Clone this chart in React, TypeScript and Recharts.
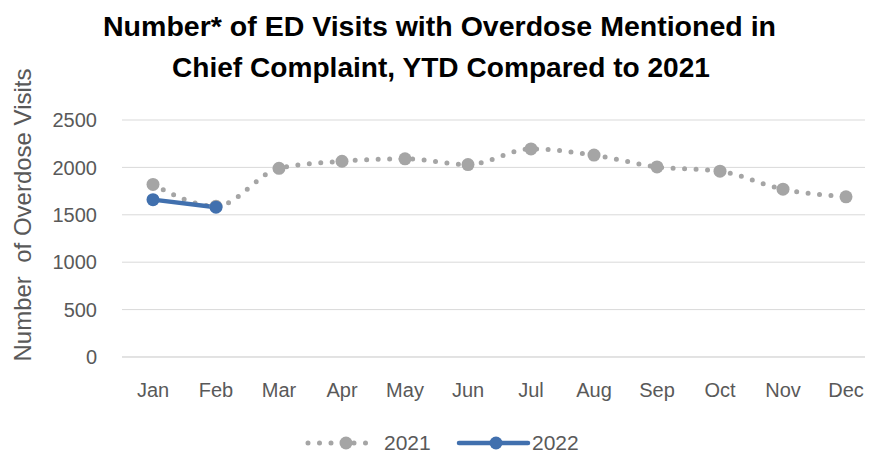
import React from 'react';
import { LineChart, Line, XAxis, YAxis, CartesianGrid } from 'recharts';

const months = ['Jan', 'Feb', 'Mar', 'Apr', 'May', 'Jun', 'Jul', 'Aug', 'Sep', 'Oct', 'Nov', 'Dec'];
const values2021 = [1820, 1590, 1990, 2065, 2090, 2030, 2195, 2130, 2005, 1960, 1770, 1690];
const values2022 = [1660, 1580];
const seriesNames = ['2021', '2022'];
const yTicks = [0, 500, 1000, 1500, 2000, 2500];
const titleLines = ['Number* of ED Visits with Overdose Mentioned in', 'Chief Complaint, YTD Compared to 2021'];
const yLabel = 'Number  of Overdose Visits';

const data = months.map((m, i) => ({
  month: m,
  y2021: values2021[i],
  y2022: i < values2022.length ? values2022[i] : null,
}));

const GREY = '#A5A5A5';
const BLUE = '#4170AE';
const TEXT = '#595959';
const FONT = '"Liberation Sans", Arial, sans-serif';

export default function App() {
  return (
    <div style={{ position: 'relative', marginTop: -8, marginLeft: -8, width: 873, height: 460, overflow: 'hidden', background: '#fff' }}>
      <LineChart width={880} height={452} data={data} margin={{ top: 120, right: 3, bottom: 65, left: 0 }}>
        <CartesianGrid vertical={false} stroke="#D9D9D9" strokeWidth={1} />
        <XAxis
          dataKey="month"
          scale="point"
          padding={{ left: 31, right: 31 }}
          axisLine={{ stroke: '#D9D9D9' }}
          tickLine={false}
          tickSize={0}
          tickMargin={26}
          height={30}
          tick={{ fill: TEXT, fontSize: 20, fontFamily: FONT }}
        />
        <YAxis
          domain={[0, 2500]}
          ticks={yTicks}
          width={122}
          axisLine={false}
          tickLine={false}
          tickSize={0}
          tickMargin={25}
          tick={{ fill: TEXT, fontSize: 20, fontFamily: FONT }}
          label={{
            content: () => (
              <text
                x={22}
                y={215}
                transform="rotate(-90 22 215)"
                textAnchor="middle"
                dominantBaseline="central"
                fill={TEXT}
                fontSize={24}
                fontFamily={FONT}
                style={{ whiteSpace: 'pre' }}
              >
                {yLabel}
              </text>
            ),
          }}
        />
        <Line
          type="monotone"
          dataKey="y2021"
          name={seriesNames[0]}
          stroke={GREY}
          strokeWidth={5}
          strokeDasharray="0 11.5"
          strokeLinecap="round"
          dot={{ r: 6.5, fill: GREY, stroke: GREY, strokeWidth: 0, strokeDasharray: 'none' }}
          isAnimationActive={false}
        />
        <Line
          type="monotone"
          dataKey="y2022"
          name={seriesNames[1]}
          stroke={BLUE}
          strokeWidth={4.5}
          dot={{ r: 6.5, fill: BLUE, stroke: BLUE, strokeWidth: 0 }}
          connectNulls={false}
          isAnimationActive={false}
        />
      </LineChart>
      <svg width={873} height={452} style={{ position: 'absolute', left: 0, top: 0, pointerEvents: 'none' }}>
        <text x={439.5} y={36} textAnchor="middle" fontFamily={FONT} fontWeight="bold" fontSize={27} fill="#000" textLength={673} lengthAdjust="spacingAndGlyphs">
          {titleLines[0]}
        </text>
        <text x={441} y={77} textAnchor="middle" fontFamily={FONT} fontWeight="bold" fontSize={27} fill="#000" textLength={538} lengthAdjust="spacingAndGlyphs">
          {titleLines[1]}
        </text>
        {/* legend */}
        <line x1={308} y1={443} x2={373} y2={443} stroke={GREY} strokeWidth={5} strokeDasharray="0 11.5" strokeLinecap="round" />
        <circle cx={346} cy={443} r={6.5} fill={GREY} />
        <text x={384} y={449.5} fontFamily={FONT} fontSize={21} fill={TEXT}>{seriesNames[0]}</text>
        <line x1={459} y1={443} x2={528} y2={443} stroke={BLUE} strokeWidth={4.5} strokeLinecap="round" />
        <circle cx={496} cy={443} r={6.5} fill={BLUE} />
        <text x={532} y={449.5} fontFamily={FONT} fontSize={21} fill={TEXT}>{seriesNames[1]}</text>
      </svg>
    </div>
  );
}
